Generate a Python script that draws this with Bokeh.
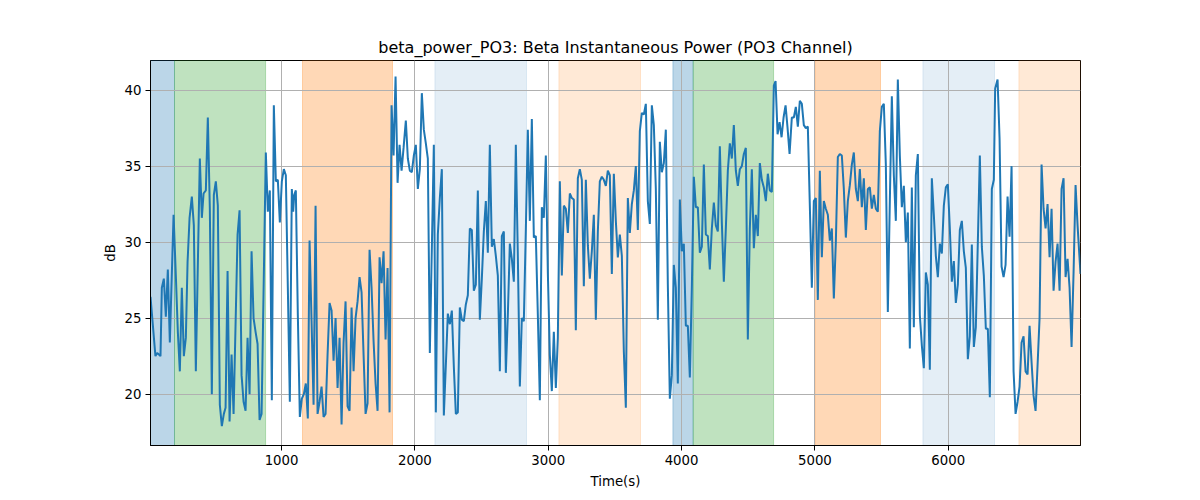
from bokeh.plotting import figure
from bokeh.models import Range1d, FixedTicker, ColumnDataSource
from bokeh.embed import file_html
from bokeh.resources import INLINE

# ---- data ----
time_s = [17, 54, 67, 80, 92, 102, 117, 132, 147, 162, 190, 207, 222, 237, 252, 267, 282, 295, 310, 327,
          342, 357, 387, 402, 415, 432, 447, 462, 477, 492, 507, 522, 537, 552, 567, 580, 595, 610, 625, 640,
          670, 685, 700, 715, 730, 745, 760, 775, 790, 805, 820, 835, 850, 882, 897, 912, 927, 942, 957, 972,
          987, 1002, 1017, 1032, 1047, 1062, 1077, 1087, 1095, 1107, 1122, 1137, 1152, 1167, 1182, 1197, 1210,
          1225, 1240, 1255, 1270, 1285, 1300, 1315, 1330, 1345, 1360, 1375, 1390, 1405, 1420, 1435, 1450, 1465,
          1480, 1495, 1510, 1525, 1540, 1555, 1570, 1585, 1600, 1615, 1630, 1645, 1660, 1675, 1690, 1705, 1720,
          1735, 1750, 1765, 1780, 1795, 1810, 1825, 1840, 1855, 1870, 1885, 1900, 1915, 1932, 1947, 1962, 1977,
          1992, 2007, 2022, 2037, 2052, 2067, 2082, 2097, 2112, 2142, 2157, 2172, 2187, 2202, 2217, 2232, 2247,
          2262, 2277, 2292, 2307, 2322, 2337, 2352, 2367, 2382, 2397, 2412, 2427, 2442, 2457, 2472, 2487, 2502,
          2517, 2532, 2547, 2562, 2577, 2592, 2607, 2622, 2637, 2652, 2667, 2682, 2697, 2712, 2727, 2742, 2757,
          2772, 2787, 2802, 2817, 2832, 2847, 2862, 2877, 2892, 2907, 2922, 2937, 2952, 2967, 2982, 2997, 3012,
          3027, 3042, 3057, 3072, 3087, 3102, 3117, 3132, 3147, 3162, 3177, 3192, 3207, 3222, 3237, 3252, 3267,
          3282, 3297, 3312, 3327, 3342, 3357, 3372, 3387, 3402, 3417, 3432, 3447, 3462, 3477, 3492, 3507, 3522,
          3537, 3552, 3567, 3582, 3597, 3612, 3627, 3642, 3657, 3672, 3687, 3702, 3717, 3732, 3747, 3762, 3777,
          3792, 3807, 3822, 3837, 3852, 3867, 3882, 3897, 3912, 3927, 3942, 3957, 3972, 3987, 4002, 4017, 4032,
          4047, 4062, 4077, 4092, 4107, 4122, 4137, 4152, 4167, 4182, 4197, 4212, 4227, 4242, 4257, 4272, 4287,
          4302, 4317, 4332, 4347, 4362, 4377, 4392, 4407, 4422, 4437, 4452, 4467, 4482, 4497, 4512, 4527, 4542,
          4557, 4572, 4587, 4602, 4617, 4632, 4647, 4662, 4677, 4692, 4705, 4720, 4735, 4750, 4765, 4780, 4795,
          4810, 4827, 4842, 4857, 4872, 4887, 4902, 4917, 4932, 4947, 4962, 4977, 4992, 5007, 5022, 5037, 5052,
          5067, 5082, 5097, 5112, 5127, 5142, 5157, 5172, 5187, 5202, 5217, 5232, 5247, 5262, 5277, 5292, 5307,
          5322, 5337, 5352, 5367, 5382, 5397, 5412, 5427, 5442, 5457, 5472, 5487, 5502, 5517, 5532, 5547, 5562,
          5577, 5592, 5607, 5622, 5637, 5652, 5667, 5682, 5697, 5712, 5727, 5742, 5757, 5772, 5787, 5802, 5817,
          5832, 5847, 5862, 5877, 5892, 5907, 5922, 5937, 5952, 5967, 5982, 5997, 6012, 6027, 6042, 6057, 6072,
          6087, 6102, 6117, 6132, 6147, 6162, 6177, 6192, 6207, 6222, 6237, 6252, 6267, 6282, 6297, 6312, 6327,
          6342, 6352, 6370, 6385, 6400, 6415, 6430, 6445, 6460, 6475, 6490, 6505, 6520, 6535, 6550, 6565, 6580,
          6595, 6610, 6625, 6640, 6655, 6670, 6685, 6700, 6715, 6730, 6745, 6760, 6775, 6790, 6805, 6820, 6835,
          6850, 6865, 6880, 6895, 6910, 6925, 6940, 6955, 6970, 6992]

beta_db = [26.4, 22.5, 22.7, 22.6, 22.5, 27.0, 27.6, 25.1, 28.2, 23.4, 31.8, 27.8, 24.1, 21.5, 27.0, 22.5, 23.7, 28.7, 31.6, 33.0,
           31.1, 21.5, 35.5, 31.6, 33.2, 33.4, 38.2, 32.2, 20.0, 33.1, 34.0, 32.4, 19.3, 17.9, 18.7, 19.1, 28.1, 18.2, 22.6, 18.7,
           30.5, 32.1, 21.25, 19.5, 18.9, 23.7, 20.0, 29.4, 25.0, 24.1, 23.3, 18.3, 18.7, 35.9, 32.0, 33.4, 19.6, 39.0, 34.0, 34.1,
           31.3, 34.0, 34.8, 34.4, 27.0, 19.5, 33.5, 32.0, 33.1, 33.4, 25.2, 18.5, 19.7, 20.0, 20.7, 18.4, 30.1,
           24.8, 19.3, 32.4, 18.7, 19.5, 20.5, 18.5, 18.7, 22.6, 26.0, 25.5, 22.2, 25.0, 20.4, 23.7, 18.0, 23.4,
           26.1, 19.2, 18.9, 25.7, 21.5, 25.0, 26.1, 27.7, 26.7, 22.6, 18.7, 19.4, 29.5, 27.0, 23.5, 20.7, 18.9,
           29.0, 27.3, 29.4, 23.6, 28.3, 18.8, 39.0, 35.7, 40.9, 33.9, 36.4, 34.7, 36.2, 38.0, 35.5, 34.7, 34.6,
           35.7, 36.4, 33.5, 34.8, 39.8, 37.4, 36.5, 35.5, 22.7, 36.4, 18.8, 30.5, 32.9, 34.8, 18.6, 21.9, 25.3,
           24.6, 25.5, 21.8, 18.7, 18.8, 25.7, 24.9, 24.8, 25.9, 26.5, 30.9, 30.8, 26.8, 27.2, 33.4, 24.9, 27.6,
           30.7, 32.7, 29.3, 36.4, 29.7, 30.2, 29.1, 27.8, 21.5, 30.4, 30.7, 21.4, 25.2, 29.9, 28.9, 27.4, 36.4,
           29.1, 20.5, 25.0, 24.8, 30.8, 37.4, 31.4, 38.1, 30.3, 30.4, 25.2, 19.6, 32.3, 31.6, 35.7, 28.0, 22.6,
           20.2, 24.1, 20.4, 23.7, 34.0, 27.8, 32.4, 32.2, 30.6, 33.2, 32.9, 32.8, 24.2, 34.2, 34.8, 34.1, 27.1,
           34.1, 29.8, 27.6, 29.4, 31.8, 24.9, 30.7, 34.0, 34.3, 34.1, 33.7, 34.7, 34.4, 27.9, 34.5, 31.4, 29.0,
           30.5, 29.1, 22.8, 19.1, 32.9, 30.6, 32.5, 33.4, 35.0, 30.8, 37.3, 38.5, 38.4, 39.1, 32.7, 31.2, 39.0,
           37.7, 33.5, 24.9, 36.6, 34.6, 35.2, 37.4, 27.2, 19.7, 21.25, 28.5, 27.0, 20.7, 32.8, 29.4, 29.9, 24.5,
           24.5, 21.1, 27.0, 34.3, 32.3, 32.3, 29.3, 29.7, 35.1, 30.5, 30.4, 28.2, 30.9, 32.6, 31.1, 30.7, 36.3,
           31.3, 27.4, 30.9, 34.7, 36.5, 35.5, 37.7, 34.7, 33.7, 34.8, 35.0, 35.8, 36.2, 23.6, 30.9, 34.8, 29.6,
           31.8, 30.4, 35.2, 34.1, 33.6, 32.7, 34.5, 33.4, 33.3, 40.3, 40.6, 37.1, 37.9, 36.9, 38.2, 39.0, 37.5,
           35.8, 38.2, 38.2, 38.9, 37.6, 39.3, 39.1, 37.7, 37.5, 37.6, 32.4, 27.0, 32.7, 32.9, 26.2, 34.7, 29.0,
           32.7, 32.2, 31.8, 30.1, 30.9, 26.3, 30.0, 35.6, 35.8, 35.7, 33.5, 30.3, 32.7, 33.75, 35.1, 35.9, 33.5,
           32.7, 34.8, 32.3, 34.2, 30.8, 33.5, 33.6, 32.2, 33.1, 32.2, 32.0, 37.3, 38.9, 39.1, 35.1, 25.4, 32.7,
           39.6, 34.4, 31.4, 40.7, 35.7, 32.3, 33.7, 30.0, 31.95, 23.0, 33.6, 24.4, 34.4, 35.8, 25.2, 23.2, 21.7,
           28.0, 27.2, 21.6, 34.2, 31.8, 29.1, 27.7, 29.9, 29.25, 32.4, 33.6, 33.8, 30.9, 27.4, 28.75, 26.0, 27.2,
           30.8, 31.4, 29.4, 28.3, 22.3, 23.8, 29.85, 23.1, 24.4, 30.0, 35.7, 29.7, 27.8, 24.3, 24.3, 19.8, 33.5,
           34.1, 40.1, 40.7, 36.8, 28.4, 27.7, 28.5, 33.0, 30.35, 35.0, 21.5, 18.7, 19.5, 20.5, 23.4, 23.8, 21.5,
           21.3, 24.5, 22.1, 19.9, 18.9, 21.9, 25.0, 35.1, 32.2, 30.9, 32.5, 29.0, 32.2, 26.8, 28.7, 29.9, 26.8,
           33.5, 34.2, 27.7, 28.9, 27.0, 23.1, 28.0, 33.75, 31.1, 27.9]

span_start = [17, 197, 1157, 2150, 3080, 3935, 4087, 5000, 5810, 6530]
span_end = [197, 880, 1832, 2837, 3692, 4087, 4690, 5492, 6347, 6992]
span_color = ["#1f77b4", "#2ca02c", "#ff7f0e", "#1f77b4", "#ff7f0e",
              "#1f77b4", "#2ca02c", "#ff7f0e", "#1f77b4", "#ff7f0e"]
span_alpha = [0.3, 0.3, 0.3, 0.12, 0.17, 0.3, 0.3, 0.3, 0.12, 0.17]

x_ticks = [1000, 2000, 3000, 4000, 5000, 6000]
y_ticks = [20, 25, 30, 35, 40]

FONT = "DejaVu Sans"

p = figure(width=1200, height=500, output_backend="svg", toolbar_location=None,
           x_range=Range1d(time_s[0], time_s[-1]), y_range=Range1d(16.62, 41.95),
           min_border_left=150, min_border_right=120, min_border_top=60, min_border_bottom=55,
           title="beta_power_PO3: Beta Instantaneous Power (PO3 Channel)")

p.title.align = "center"
p.title.text_font = FONT
p.title.text_font_size = "16px"
p.title.text_font_style = "normal"
p.title.text_color = "black"
p.title.standoff = 8

span_src = ColumnDataSource(dict(left=span_start, right=span_end, color=span_color, alpha=span_alpha))
r = p.quad(left="left", right="right", bottom=16.62, top=41.95, source=span_src,
           fill_color="color", fill_alpha="alpha", line_color="color", line_alpha="alpha", line_width=1)
r.level = "image"

p.line(time_s, beta_db, line_color="#1f77b4", line_width=2)

p.outline_line_color = "black"
p.outline_line_width = 1
p.outline_line_alpha = 1

for ax in (p.xaxis[0], p.yaxis[0]):
    ax.axis_line_color = "black"
    ax.major_tick_line_color = "black"
    ax.major_tick_out = 5
    ax.major_tick_in = 0
    ax.minor_tick_out = 0
    ax.minor_tick_in = 0
    ax.major_label_text_font = FONT
    ax.major_label_text_font_size = "13.3px"
    ax.major_label_text_color = "black"
    ax.major_label_standoff = 4
    ax.axis_label_text_font = FONT
    ax.axis_label_text_font_size = "13.3px"
    ax.axis_label_text_font_style = "normal"
    ax.axis_label_text_color = "black"

p.xaxis[0].ticker = FixedTicker(ticks=x_ticks)
p.yaxis[0].ticker = FixedTicker(ticks=y_ticks)
p.xaxis[0].axis_label = "Time(s)"
p.yaxis[0].axis_label = "dB"
p.xaxis[0].axis_label_standoff = 6
p.yaxis[0].axis_label_standoff = 4

for g in (p.xgrid[0], p.ygrid[0]):
    g.grid_line_color = "#b0b0b0"
    g.grid_line_width = 1
p.xgrid[0].ticker = FixedTicker(ticks=x_ticks)
p.ygrid[0].ticker = FixedTicker(ticks=y_ticks)

open("out.html", "w").write(file_html(p, INLINE))
